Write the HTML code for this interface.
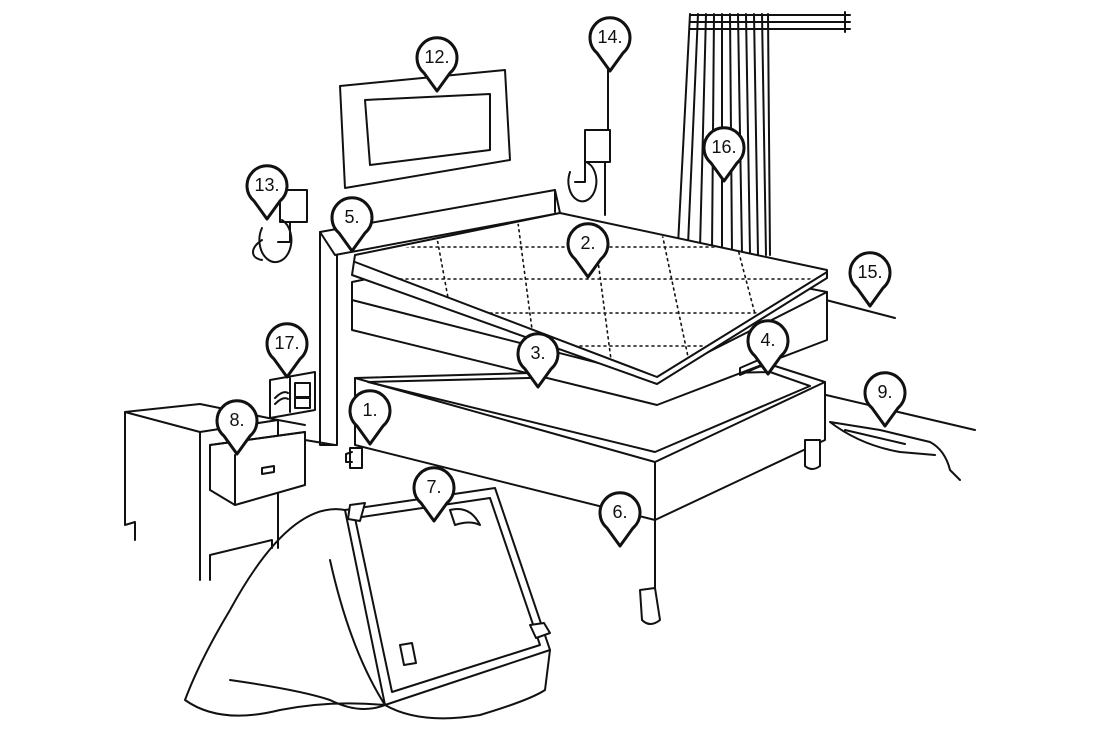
<!DOCTYPE html>
<html><head><meta charset="utf-8"><style>
html,body{margin:0;padding:0;background:#fff;}
svg{display:block;}
text{font-family:"Liberation Sans",sans-serif;font-size:18px;fill:#111;text-anchor:middle;}
</style></head><body>
<svg width="1097" height="733" viewBox="0 0 1097 733" xmlns="http://www.w3.org/2000/svg">
<defs>
<symbol id="pin" viewBox="-22 -22 44 58" overflow="visible">
<path d="M0 34 L-13 16 A20 20 0 1 1 13 16 Z" fill="#fff" stroke="#111" stroke-width="3" stroke-linejoin="round"/>
</symbol>
<clipPath id="top"><path d="M357 258 L560 215 L825 270 L657 376 L355 262 Z"/></clipPath>
</defs>
<g fill="none" stroke="#111" stroke-width="2" stroke-linejoin="round" stroke-linecap="round">
<!-- curtain rod -->
<path d="M690 15 H850 M690 22 H850 M690 29 H850 M845 12 V32"/>
<!-- curtain folds -->
<path d="M690 14 L678 245 M698 14 L688 245 M706 14 L700 248 M714 14 L712 250 M722 14 L722 252 M730 14 L732 252 M738 14 L742 253 M746 14 L750 254 M754 14 L758 255 M762 14 L766 255 M768 14 L770 255"/>
<path d="M826 300 L895 318"/>
<!-- wall art -->
<path d="M340 86 L505 70 L510 160 L345 188 Z" fill="#fff"/>
<path d="M365 100 L490 94 L490 150 L370 165 Z"/>
<!-- lamp 14 -->
<path d="M608 60 L608 140 M605 140 V215"/>
<path d="M585 130 h25 v32 h-25 z" fill="#fff"/>
<path d="M570 172 a14 20 0 1 0 16 -10 M585 162 v20 h-10"/>
<!-- lamp 13 -->
<path d="M280 190 h27 v32 h-27 z" fill="#fff"/>
<path d="M262 228 a16 22 0 1 0 20 -8 M290 222 v20 h-12 M262 240 C250 248 250 258 262 260"/>
<!-- headboard -->
<path d="M320 232 L555 190 L560 213 L335 255 Z" fill="#fff"/>
<path d="M320 232 V445 H337 V255"/>
<path d="M555 190 V212"/>
<!-- outlet -->
<path d="M270 380 L315 372 V410 L270 418 Z M290 378 V412 M295 383 h15 v14 h-15 z M295 398 h15 v10 h-15 z M275 398 q8 -8 13 -5 M275 404 q8 -8 13 -5"/>
<!-- nightstand -->
<path d="M125 412 L200 404 L278 420 L200 432 Z" fill="#fff"/>
<path d="M125 412 V525 M135 523 V540 M200 432 V580 M210 580 V555 L272 540 V548 M278 420 V548 M125 525 L135 522"/>
<path d="M210 445 L305 432 V485 L235 505 L210 490 Z" fill="#fff"/>
<path d="M235 455 V505 M305 432 L210 445 M262 468 l12 -2 v6 l-12 2 z"/>
<path d="M305 440 L335 445 M278 420 L305 425"/>
<!-- foundation frame -->
<path d="M355 378 L775 366 L825 382 L655 462 Z" fill="#fff"/>
<path d="M368 382 L770 372 L810 386 L655 452 Z"/>
<path d="M355 378 V445 L655 520 L825 440 V382 M655 462 V585 M655 520 V588"/>
<path d="M640 590 L655 588 L660 620 Q650 628 642 620 Z" fill="#fff"/>
<path d="M805 440 L820 440 V466 Q812 472 805 466 Z" fill="#fff"/>
<path d="M350 448 h12 v20 h-12 z" fill="#fff"/>
<path d="M352 452 l-6 2 v8 l6 0"/>
<!-- mattress -->
<path d="M352 282 L560 240 L827 292 V340 L657 405 L352 330 Z" fill="#fff"/>
<path d="M827 292 L657 378 L352 300"/>
<path d="M740 368 L770 355 V362 L740 375 Z"/>
<!-- topper -->
<path d="M355 255 L560 213 L827 270 V278 L657 384 L352 275 Z" fill="#fff"/>
<path d="M827 272 L657 377 L355 262"/>
<g stroke-dasharray="2 4" stroke-width="1.6" clip-path="url(#top)">
<path d="M340 247 H840 M340 279 H840 M340 313 H840 M340 346 H840"/>
<path d="M430 200 L465 390 M515 200 L540 390 M590 200 L615 390 M655 200 L695 390 M725 200 L775 390"/>
</g>
<!-- rug 9 -->
<path d="M826 395 L975 430 M830 422 L880 430 L930 442 Q945 450 950 470 L960 480 M830 422 Q860 445 900 452 L935 455 M845 430 L905 444"/>
<!-- flipped foundation & blanket -->
<path d="M345 510 L495 488 L550 650 L385 705 Z" fill="#fff"/>
<path d="M355 518 L490 498 L540 645 L392 692 Z"/>
<path d="M345 510 Q290 500 230 610 Q200 660 185 700 Q220 725 280 710 Q330 700 385 705 Q420 725 480 715 Q530 700 545 690 L550 650"/>
<path d="M385 705 Q350 650 330 560 M330 700 Q360 715 385 705 M230 680 Q300 690 330 700"/>
<path d="M350 505 l15 -2 l-5 18 l-12 -2 z M530 625 l14 -2 l6 10 l-14 5 z M400 645 l12 -2 l4 20 l-12 2 z" fill="#fff"/>
<path d="M450 510 Q470 505 480 525 Q470 520 455 525 Z" fill="#fff"/>
</g>
<use href="#pin" x="348" y="388" width="44" height="58"/><text x="370" y="416">1.</text>
<use href="#pin" x="566" y="221" width="44" height="58"/><text x="588" y="249">2.</text>
<use href="#pin" x="516" y="331" width="44" height="58"/><text x="538" y="359">3.</text>
<use href="#pin" x="746" y="318" width="44" height="58"/><text x="768" y="346">4.</text>
<use href="#pin" x="330" y="195" width="44" height="58"/><text x="352" y="223">5.</text>
<use href="#pin" x="598" y="490" width="44" height="58"/><text x="620" y="518">6.</text>
<use href="#pin" x="412" y="465" width="44" height="58"/><text x="434" y="493">7.</text>
<use href="#pin" x="215" y="398" width="44" height="58"/><text x="237" y="426">8.</text>
<use href="#pin" x="863" y="370" width="44" height="58"/><text x="885" y="398">9.</text>
<use href="#pin" x="415" y="35" width="44" height="58"/><text x="437" y="63">12.</text>
<use href="#pin" x="245" y="163" width="44" height="58"/><text x="267" y="191">13.</text>
<use href="#pin" x="588" y="15" width="44" height="58"/><text x="610" y="43">14.</text>
<use href="#pin" x="848" y="250" width="44" height="58"/><text x="870" y="278">15.</text>
<use href="#pin" x="702" y="125" width="44" height="58"/><text x="724" y="153">16.</text>
<use href="#pin" x="265" y="321" width="44" height="58"/><text x="287" y="349">17.</text>
</svg>
</body></html>
